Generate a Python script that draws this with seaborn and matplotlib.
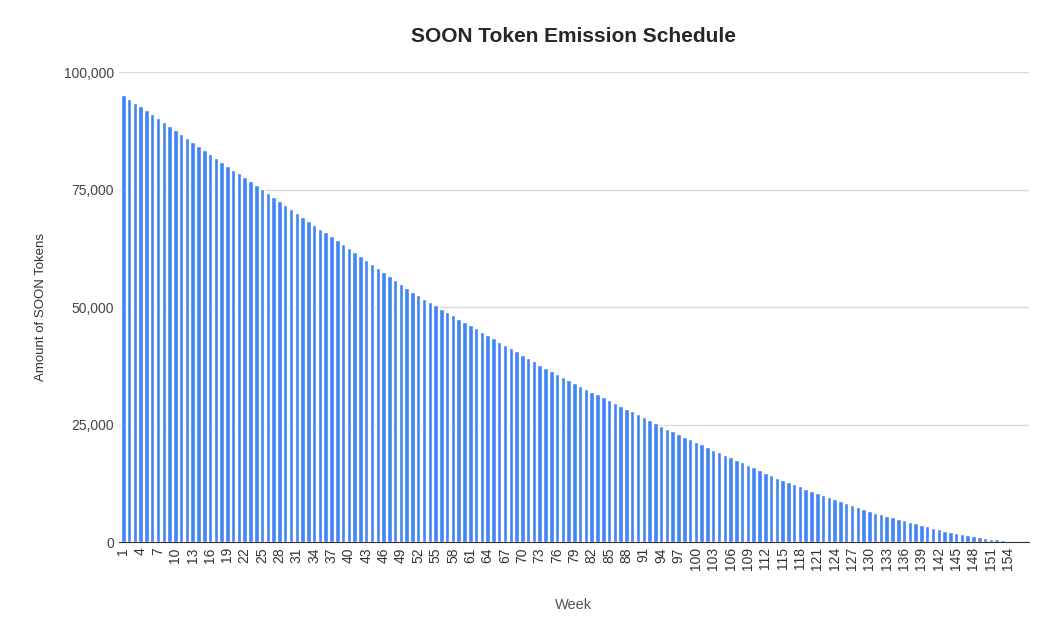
import numpy as np
import pandas as pd
import matplotlib.pyplot as plt
import seaborn as sns

weeks = list(range(1, 156))
tokens = [
    95200, 94363, 93525, 92688, 91850, 91013, 90175, 89338, 88500, 87663,
    86825, 85988, 85150, 84313, 83475, 82638, 81800, 80963, 80125, 79288,
    78450, 77613, 76775, 75938, 75100,
    74263, 73426, 72589, 71752, 70915, 70078, 69241, 68404, 67567, 66730,
    65893, 65056, 64219, 63382, 62545, 61708, 60871, 60034, 59197, 58360,
    57523, 56686, 55849, 55012, 54175, 53338, 52500,
    51800, 51100, 50400, 49700, 49000, 48300, 47600, 46900, 46200, 45500,
    44800, 44100, 43400, 42700, 42000, 41300, 40600, 39900, 39200, 38500,
    37800, 37100, 36400, 35700,
    35095, 34490, 33885, 33280, 32675, 32070, 31465, 30860, 30255, 29650,
    29045, 28440, 27835, 27230, 26625, 26020, 25415, 24810, 24205, 23600,
    23000,
    22456, 21912, 21368, 20824, 20280, 19736, 19192, 18648, 18104, 17560,
    17016, 16472, 15928, 15384, 14840, 14296, 13752, 13200,
    12760, 12320, 11880, 11440, 11000, 10560, 10120, 9680, 9240, 8800,
    8360, 7920, 7480, 7040, 6600,
    6283, 5966, 5649, 5332, 5015, 4698, 4381, 4064, 3747, 3430, 3113, 2800,
    2500, 2230, 1980, 1740, 1520, 1310, 1120, 940, 780, 620, 470, 320, 180,
]
yticks = [0, 25000, 50000, 75000, 100000]

df = pd.DataFrame({'week': weeks, 'tokens': tokens})

sns.set_style('white')
plt.rcParams['font.family'] = ['Liberation Sans', 'DejaVu Sans']
fig, ax = plt.subplots(figsize=(10.5, 6.27), dpi=100)
sns.barplot(data=df, x='week', y='tokens', color='#4285F4', saturation=1,
            width=0.78, ax=ax)

ax.set_ylim(0, 100000)
ax.set_yticks(yticks)
ax.set_yticklabels(['{:,}'.format(t) for t in yticks], color='#444444', fontsize=10)
ax.yaxis.grid(True, color='#d9d9d9', linewidth=1)
ax.set_axisbelow(True)
ax.set_xlim(-0.8, len(weeks) + 1.6)

pos = list(range(0, len(weeks), 3))
ax.set_xticks(pos)
ax.set_xticklabels([str(weeks[i]) for i in pos], rotation=90, fontsize=10, color='#333333')
ax.tick_params(axis='both', length=0)

for s in ['top', 'right', 'left']:
    ax.spines[s].set_visible(False)
ax.spines['bottom'].set_color('#333333')

ax.set_xlabel('Week', color='#555555', fontsize=10.5, labelpad=20)
ax.set_ylabel('Amount of SOON Tokens', color='#333333', fontsize=9.5, labelpad=12)
ax.set_title('SOON Token Emission Schedule', fontsize=15, fontweight='bold', pad=22)

plt.subplots_adjust(left=0.113, right=0.98, top=0.885, bottom=0.135)
plt.savefig('out.png', dpi=100)
